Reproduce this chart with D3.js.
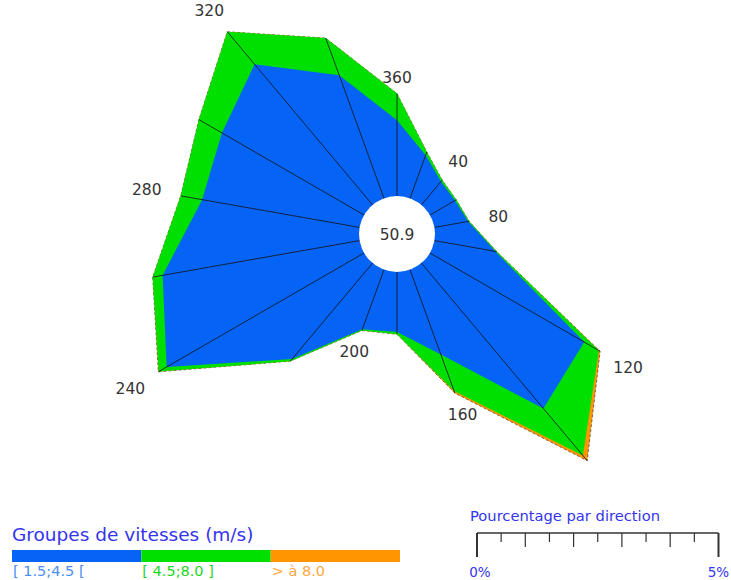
<!DOCTYPE html>
<html>
<head>
    <meta charset="utf-8">
    <title>Rose des vents</title>
    <script src="https://d3js.org/d3.v7.min.js"></script>
    <style>
        body { margin: 0; background: #fff; }
        svg { display: block; font-family: "DejaVu Sans", Verdana, sans-serif; }
    </style>
</head>
<body>
    <svg id="chart" width="731" height="580"></svg>

    <script type="text/javascript">
        // directions (degrees), every 20
        var directions = [0, 20, 40, 60, 80, 100, 120, 140, 160, 180, 200, 220, 240, 260, 280, 300, 320, 340];
        // percentage per direction for each speed group
        var lowSpeed  = [1.57, 0.95, 0.63, 0.60, 0.71, 1.28, 3.69, 3.93, 1.87, 1.24, 1.31, 2.59, 4.72, 4.14, 3.31, 3.40, 3.80, 2.71];
        var midSpeed  = [0.55, 0.07, 0.04, 0.03, 0.02, 0.03, 0.35, 1.27, 0.80, 0.05, 0.03, 0.06, 0.19, 0.21, 0.45, 0.55, 0.88, 0.82];
        var highSpeed = [0.00, 0.00, 0.00, 0.00, 0.00, 0.00, 0.03, 0.14, 0.05, 0.00, 0.00, 0.00, 0.01, 0.00, 0.00, 0.00, 0.00, 0.00];
        var calmValue = "50.9";

        var labelDirections = [0, 40, 80, 120, 160, 200, 240, 280, 320];
        var speedGroups = ["[ 1.5;4.5 [", "[ 4.5;8.0 ]", "> à 8.0"];
        var groupColors = ["#0563f5", "#00e000", "#ff9500"];
        var groupTextColors = ["#4a8ef2", "#22d622", "#ffa640"];
        var scaleTicks = [0, 0.5, 1, 1.5, 2, 2.5, 3, 3.5, 4, 4.5, 5];
        var scaleLabels = ["0%", "5%"];

        var svg = d3.select("#chart");
        var cx = 397, cy = 234, innerR = 38, pxPerPct = 48.3;

        var rScale = d3.scaleLinear().domain([0, 5]).range([innerR, innerR + 5 * pxPerPct]);
        var aScale = d3.scaleLinear().domain([0, 360]).range([0, 2 * Math.PI]);

        // cumulative stacks
        var cumLow = lowSpeed.slice();
        var cumMid = lowSpeed.map(function(v, i) { return v + midSpeed[i]; });
        var cumHigh = cumMid.map(function(v, i) { return v + highSpeed[i]; });
        var stacks = [cumLow, cumMid, cumHigh];

        var radial = d3.lineRadial()
            .angle(function(d) { return aScale(d[0]); })
            .radius(function(d) { return rScale(d[1]); })
            .curve(d3.curveLinearClosed);

        var g = svg.append("g").attr("transform", "translate(" + cx + "," + cy + ")");

        // outermost group first
        for (var k = 2; k >= 0; k--) {
            g.append("path")
                .datum(directions.map(function(dir, i) { return [dir, stacks[k][i]]; }))
                .attr("d", radial)
                .attr("fill", groupColors[k])
                .attr("stroke", k == 2 ? "#333" : "none")
                .attr("stroke-width", 0.8)
                .attr("stroke-dasharray", "3,2")
                .attr("stroke-opacity", 0.8);
        }

        // spokes
        g.selectAll("line.spoke")
            .data(directions)
            .enter()
            .append("line")
            .attr("class", "spoke")
            .attr("x1", 0).attr("y1", 0)
            .attr("x2", function(d, i) { return rScale(cumHigh[i]) * Math.sin(aScale(d)); })
            .attr("y2", function(d, i) { return -rScale(cumHigh[i]) * Math.cos(aScale(d)); })
            .attr("stroke", "#111")
            .attr("stroke-width", 0.8);

        // calm circle
        g.append("circle").attr("r", innerR).attr("fill", "#fff");
        g.append("text")
            .attr("text-anchor", "middle")
            .attr("dy", "0.36em")
            .attr("font-size", "15.5px")
            .attr("fill", "#333")
            .text(calmValue);

        // direction labels
        labelDirections.forEach(function(dir) {
            var i = directions.indexOf(dir);
            var a = aScale(dir);
            var t = g.append("text")
                .attr("text-anchor", "middle")
                .attr("dy", "0.36em")
                .attr("font-size", "15.5px")
                .attr("fill", "#333")
                .text(dir == 0 ? "360" : String(dir));
            var w = t.node().getComputedTextLength();
            var r = rScale(cumHigh[i]) + 16 + (w / 2 + 4) * Math.abs(Math.sin(a));
            t.attr("x", r * Math.sin(a)).attr("y", -r * Math.cos(a));
        });

        // speed legend
        svg.append("text")
            .attr("x", 12).attr("y", 541)
            .attr("font-size", "18.5px")
            .attr("fill", "#3434ee")
            .text("Groupes de vitesses (m/s)");

        var legendX = d3.scaleBand().domain(speedGroups).range([12, 400]);
        svg.selectAll("rect.legend")
            .data(speedGroups)
            .enter()
            .append("rect")
            .attr("x", function(d) { return legendX(d); })
            .attr("y", 550)
            .attr("width", legendX.bandwidth())
            .attr("height", 12)
            .attr("fill", function(d, i) { return groupColors[i]; });
        svg.selectAll("text.legend")
            .data(speedGroups)
            .enter()
            .append("text")
            .attr("x", function(d) { return legendX(d) + 1; })
            .attr("y", 576)
            .attr("font-size", "14.5px")
            .attr("fill", function(d, i) { return groupTextColors[i]; })
            .text(function(d) { return d; });

        // percentage scale bar
        var barScale = d3.scaleLinear().domain([0, 5]).range([477, 477 + 5 * pxPerPct]);
        svg.append("text")
            .attr("x", 470).attr("y", 521)
            .attr("font-size", "14.7px")
            .attr("fill", "#3434ee")
            .text("Pourcentage par direction");
        svg.append("line")
            .attr("x1", barScale(0)).attr("x2", barScale(5))
            .attr("y1", 533).attr("y2", 533)
            .attr("stroke", "#333").attr("stroke-width", 1.5);
        svg.selectAll("line.tick")
            .data(scaleTicks)
            .enter()
            .append("line")
            .attr("class", "tick")
            .attr("x1", barScale).attr("x2", barScale)
            .attr("y1", 533)
            .attr("y2", function(d) { return (d == 0 || d == 5) ? 557 : (d % 1 == 0 ? 547 : 542); })
            .attr("stroke", "#333")
            .attr("stroke-width", function(d) { return (d == 0 || d == 5) ? 2 : 1.2; });
        svg.selectAll("text.scale")
            .data(scaleLabels)
            .enter()
            .append("text")
            .attr("x", function(d, i) { return barScale(i * 5) + (i == 0 ? 3 : 0); })
            .attr("y", 577)
            .attr("text-anchor", "middle")
            .attr("font-size", "13.5px")
            .attr("fill", "#3434ee")
            .text(function(d) { return d; });
    </script>
</body>
</html>
